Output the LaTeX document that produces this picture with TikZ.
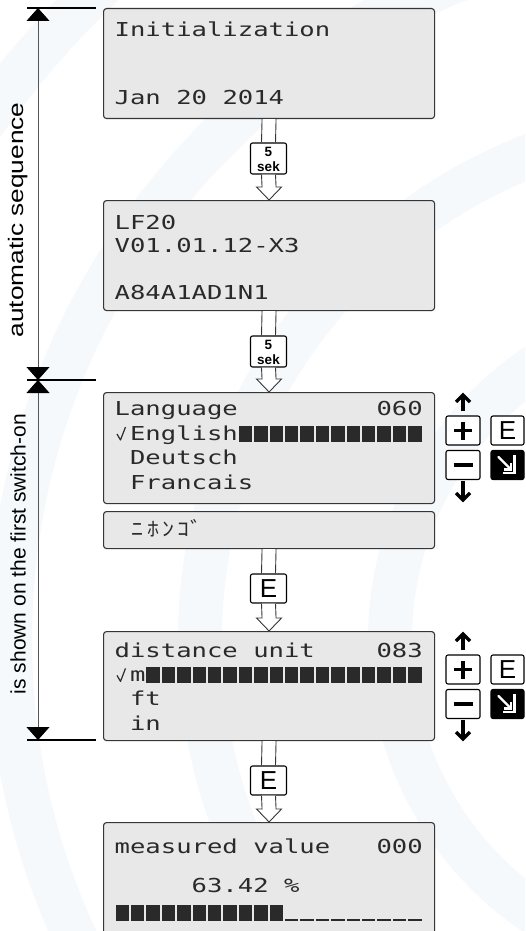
\documentclass[tikz,border=0pt]{standalone}
\usepackage{fontspec}
\setmainfont{Liberation Sans}
\newfontfamily\lcdfont[FakeStretch=1.332]{DejaVu Sans Mono}
\newfontfamily\kanafont[FakeStretch=1.2]{Noto Sans CJK JP}
\usetikzlibrary{arrows.meta,calc}

\definecolor{lcdfill}{HTML}{E8E8E8}
\definecolor{lcdedge}{HTML}{363636}
\definecolor{lcdink}{HTML}{2A2A2A}
\definecolor{wmark}{HTML}{F5F9FB}
\definecolor{dimgray}{HTML}{555555}

% LCD grid: 20 cells of 15.4 px starting at x = 114.5
\newcommand\cellx[1]{114.5+15.4*(#1)}
% \lcd{name}{baseline}{column}{text}
\newcommand\lcd[4]{\node[lcdtxt, anchor=base west] (#1) at ({\cellx{#3}},#2) {#4};}
% \lcdbar{baseline}{first col}{last col}: filled character cells
\newcommand\lcdbar[3]{\foreach \c in {#2,...,#3}
  \fill[lcdink] ({\cellx{\c}+1},{#1-14}) rectangle +(13.4,15.5);}
% \lcdline{baseline}{first col}{last col}: underscore cells
\newcommand\lcdline[3]{\foreach \c in {#2,...,#3}
  \fill[lcdink] ({\cellx{\c}+1},{#1}) rectangle +(13.4,1.6);}
% \lcdcheck{baseline}: tick mark in the first cell
\newcommand\lcdcheck[1]{\draw[lcdink, line width=1.2pt, line join=round]
  ({\cellx{0}+2.5},{#1-6}) -- ({\cellx{0}+6},{#1}) -- ({\cellx{0}+11},{#1-13});}

% white double-line arrow from box #1 through tag #2 to box #3
\newcommand\hollowarrow[3]{
  \fill[white] ($(#1.south)+(-7,0)$) rectangle ($(#2.north)+(7,0)$);
  \draw[shaft] ($(#1.south)+(-7,0)$) -- ($(#2.north)+(-7,0)$);
  \draw[shaft] ($(#1.south)+(7,0)$) -- ($(#2.north)+(7,0)$);
  \filldraw[shaft, fill=white] ($(#2.south)+(-7,0)$) -- ($(#3.north)+(-7,-13)$)
    -- ($(#3.north)+(-12.5,-13)$) -- (#3.north) -- ($(#3.north)+(12.5,-13)$)
    -- ($(#3.north)+(7,-13)$) -- ($(#2.south)+(7,0)$);
}

% "5 sek" waiting tag centred at #2
\newcommand\waittag[2]{
  \node[waitbox] (#1) at #2 {};
  \node[waittxt] (#1num) at ($(#1.center)+(0,-2.5)$) {5};
  \node[waittxt] (#1unit) at ($(#1.center)+(0,13)$) {sek};
}

% operating keys beside a display whose top edge is at #2
\newcommand\keypad[2]{
  \node[key] (#1plus) at (463,{#2+38.5}) {};
  \node[key, minimum width=33] (#1enter) at (507.5,{#2+38.5}) {\fontsize{26}{26}\selectfont E};
  \node[key] (#1minus) at (463,{#2+73}) {};
  \node[key, fill=black, minimum width=33] (#1esc) at (507.5,{#2+73}) {};
  \draw[keystroke] ($(#1plus.center)+(-9,0)$) -- ($(#1plus.center)+(9,0)$);
  \draw[keystroke] ($(#1plus.center)+(0,-9)$) -- ($(#1plus.center)+(0,9)$);
  \draw[keystroke] ($(#1minus.center)+(-9.5,0)$) -- ($(#1minus.center)+(9.5,0)$);
  \draw[white, line width=2.6pt] ($(#1esc.center)+(7,-10)$) -- ($(#1esc.center)+(7,8)$)
    -- ($(#1esc.center)+(-5,8)$);
  \draw[white, line width=2.4pt, line cap=round] ($(#1esc.center)+(-9,-8)$) -- ($(#1esc.center)+(3,4)$);
  \draw[white, line width=2.4pt, line join=miter] ($(#1esc.center)+(-3.5,4.5)$)
    -- ($(#1esc.center)+(3.5,4.5)$) -- ($(#1esc.center)+(3.5,-2.5)$);
  \coordinate (#1upfrom) at (463,{#2+19});
  \coordinate (#1upto) at (463,{#2+3});
  \coordinate (#1dnfrom) at (463,{#2+89});
  \coordinate (#1dnto) at (463,{#2+108});
  \draw[keyshaft] (#1upfrom) -- (#1upto);
  \draw[keyhead] ($(#1upto)+(-7,7)$) -- (#1upto) -- ($(#1upto)+(7,7)$);
  \draw[keyshaft] (#1dnfrom) -- (#1dnto);
  \draw[keyhead] ($(#1dnto)+(-7,-7)$) -- (#1dnto) -- ($(#1dnto)+(7,-7)$);
}

\tikzset{
  lcdbox/.style={draw=lcdedge, line width=1.1pt, fill=lcdfill, rounded corners=3pt,
    minimum width=331, inner sep=0, anchor=north west},
  lcdtxt/.style={font=\lcdfont\fontsize{19.2}{20}\selectfont, text=lcdink, inner sep=0},
  kana/.style={font=\kanafont\fontsize{20}{20}\selectfont, text=lcdink, inner sep=0, anchor=base},
  shaft/.style={draw=lcdedge, line width=0.9pt, line join=miter},
  tag/.style={draw=black, line width=1.1pt, fill=white, rounded corners=2pt,
    minimum width=36, inner sep=0},
  waitbox/.style={tag, minimum height=31},
  waittxt/.style={font=\bfseries\fontsize{13.5}{13.5}\selectfont, inner sep=0, anchor=base},
  entertag/.style={tag, minimum height=29, font=\fontsize{26}{26}\selectfont},
  key/.style={draw=black, line width=1.1pt, fill=white, rounded corners=2pt,
    minimum width=34, minimum height=29, inner sep=0},
  keystroke/.style={line width=3.4pt},
  keyshaft/.style={line width=3.6pt},
  keyhead/.style={line width=3.4pt, line join=miter, miter limit=4},
  dimline/.style={draw=dimgray, line width=0.8pt,
    {Triangle[length=13pt,width=23pt,color=black]}-{Triangle[length=13pt,width=23pt,color=black]}},
  tick/.style={draw=black, line width=1.1pt},
  side/.style={rotate=90, font=\fontsize{21}{21}\selectfont, inner sep=0},
  watermark/.style={draw=wmark, line width=44pt},
}

\begin{document}
\begin{tikzpicture}[x=1pt,y=-1pt]
\useasboundingbox (0,0) rectangle (525,931);
\clip (0,0) rectangle (525,931);
\fill[white] (0,0) rectangle (525,931);

% faint background rings
\foreach \r in {330,520,710,900}
  \draw[watermark] (720,640) circle (\r);

% displays
\node[lcdbox, minimum height=110] (init) at (103,8) {};
\node[lcdbox, minimum height=110] (vers) at (103,200) {};
\node[lcdbox, minimum height=111] (lang) at (103,392) {};
\node[lcdbox, minimum height=37] (kana) at (103,511) {};
\node[lcdbox, minimum height=109] (unit) at (103,631) {};
\node[lcdbox, minimum height=130] (meas) at (103,822) {};

% display contents
\lcd{t1}{37}{0}{Initialization}
\lcd{t2}{105}{0}{Jan}
\lcd{t3}{105}{4}{20}
\lcd{t4}{105}{7}{2014}

\lcd{t5}{229}{0}{LF20}
\lcd{t6}{252.5}{0}{V01.01.12-X3}
\lcd{t7}{299}{0}{A84A1AD1N1}

\lcd{t8}{415.5}{0}{Language}
\lcd{t9}{415.5}{17}{060}
\lcdcheck{440}
\lcd{t10}{440}{1}{English}
\lcdbar{440}{8}{19}
\lcd{t11}{464.5}{1}{Deutsch}
\lcd{t12}{489}{1}{Francais}

\node[kana] (k1) at ({\cellx{1}+7.7},536) {ﾆ};
\node[kana] (k2) at ({\cellx{2}+7.7},536) {ﾎ};
\node[kana] (k3) at ({\cellx{3}+7.7},536) {ﾝ};
\node[kana] (k4) at ({\cellx{4}+7.7},536) {ｺ};
\node[kana] (k5) at ({\cellx{5}+5},536) {ﾞ};

\lcd{t13}{657}{0}{distance}
\lcd{t14}{657}{9}{unit}
\lcd{t15}{657}{17}{083}
\lcdcheck{681.4}
\lcd{t16}{681.4}{1}{m}
\lcdbar{681.4}{2}{19}
\lcd{t17}{705.8}{1}{ft}
\lcd{t18}{730.2}{1}{in}

\lcd{t19}{853}{0}{measured}
\lcd{t20}{853}{9}{value}
\lcd{t21}{853}{17}{000}
\lcd{t22}{892}{5}{63.42}
\lcd{t23}{892}{11}{\%}
\lcdbar{919}{0}{10}
\lcdline{919}{11}{19}

% step conditions between displays
\waittag{wait1}{(268.5,158.5)}
\waittag{wait2}{(268.5,351.5)}
\node[entertag] (enter1) at (268.5,588.5) {E};
\node[entertag] (enter2) at (268.5,780.5) {E};

\hollowarrow{init}{wait1}{vers}
\hollowarrow{vers}{wait2}{lang}
\hollowarrow{kana}{enter1}{unit}
\hollowarrow{unit}{enter2}{meas}

% keys
\keypad{ka}{392}
\keypad{kb}{631}

% range markers on the left
\coordinate (dtop) at (38,8);
\coordinate (dmid) at (38,380);
\coordinate (dbot) at (38,740);
\draw[tick] (27,8) -- (96,8);
\draw[tick] (27,380) -- (96,380);
\draw[tick] (27,740) -- (96,740);
\draw[dimline] (dtop) -- (dmid);
\draw[dimline] (dmid) -- (dbot);
\node[side] (auto) at (18,220) {\scalebox{1.25}[1]{automatic sequence}};
\node[side] (first) at (18,554) {is shown on the first switch-on};
\end{tikzpicture}
\end{document}
